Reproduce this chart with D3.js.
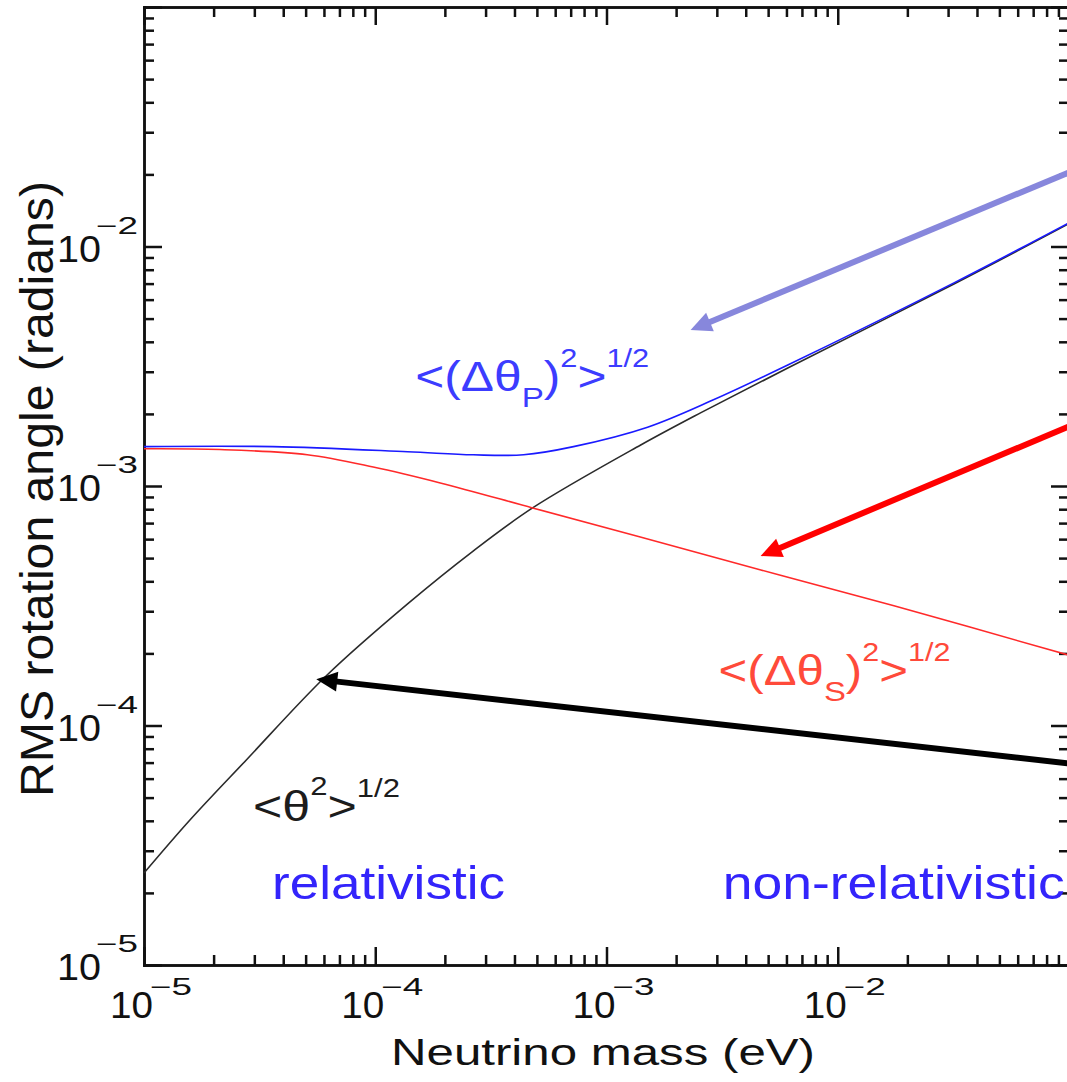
<!DOCTYPE html>
<html lang="en">
  <head>
    <meta charset="UTF-8" />
    <title>RMS rotation angle vs neutrino mass</title>
    <script src="https://d3js.org/d3.v7.min.js"></script>
    <style>
      body { margin: 0; background: #fff; }
      text { font-family: "Liberation Sans", Arial, Helvetica, sans-serif; }
    </style>
  </head>

  <body>
    <svg width="1067" height="1082"></svg>

    <script>
      // values: neutrino mass (eV) -> rms angle (radians)
      const thetaMass = [1e-5, 1.58e-5, 2.77e-5, 6.19e-5, 1.38e-4, 2.65e-4, 4.79e-4, 1.40e-3, 2.55e-3, 6.08e-3, 3.18e-2, 9.9e-2];
      const thetaRms = [2.42e-5, 4.03e-5, 7.18e-5, 1.625e-4, 3.22e-4, 5.35e-4, 8.1e-4, 1.48e-3, 2.02e-3, 3.11e-3, 6.97e-3, 1.24e-2];

      const dThetaPMass = [1e-5, 3.61e-5, 1.38e-4, 2.65e-4, 4.38e-4, 7.2e-4, 1.505e-3, 2.9e-3, 6.08e-3, 3.18e-2, 9.9e-2];
      const dThetaPRms = [1.46e-3, 1.46e-3, 1.39e-3, 1.35e-3, 1.35e-3, 1.46e-3, 1.76e-3, 2.29e-3, 3.2e-3, 7.05e-3, 1.25e-2];

      const dThetaSMass = [1e-5, 2.13e-5, 5.08e-5, 9.8e-5, 1.91e-4, 4.79e-4, 1.40e-3, 4.65e-3, 1.75e-2, 9.9e-2];
      const dThetaSRms = [1.43e-3, 1.42e-3, 1.35e-3, 1.2e-3, 1.03e-3, 8.1e-4, 6.12e-4, 4.46e-4, 3.16e-4, 1.97e-4];

      const majorTicks = [1e-5, 1e-4, 1e-3, 1e-2, 1e-1];
      const minorSteps = [2, 3, 4, 5, 6, 7, 8, 9];
      const xLabelExps = [-5, -4, -3, -2];
      const yLabelExps = [-5, -4, -3, -2];

      // arrows: [mass, angle] of tail and head
      const arrows = [
        { from: [0.1377, 0.0232], to: [2.31e-3, 4.48e-3], color: "#8787dc" },
        { from: [0.1377, 2.02e-3], to: [4.64e-3, 5.1e-4], color: "#ff0000" },
        { from: [0.1377, 6.71e-5], to: [5.56e-5, 1.56e-4], color: "#000000" },
      ];

      let svg = d3.select("svg");

      const x = d3.scaleLog().domain([1e-5, 1e-1]).range([144, 1069]);
      const y = d3.scaleLog().domain([1e-5, 1e-1]).range([965, 7]);

      const minorTicks = [];
      majorTicks.slice(0, -1).forEach(function (d) {
        minorSteps.forEach(function (k) { minorTicks.push(d * k); });
      });

      // frame with ticks on all four sides
      function drawAxis(make, tx, ty) {
        [[majorTicks, 18], [minorTicks, 10]].forEach(function (t) {
          let g = svg.append("g")
            .attr("transform", "translate(" + tx + "," + ty + ")")
            .call(make().tickValues(t[0]).tickSizeInner(-t[1]).tickSizeOuter(0).tickFormat(""));
          g.selectAll("path, line").attr("stroke", "#111").attr("stroke-width", 2.5);
          g.select("path").attr("stroke-linecap", "square");
        });
      }
      drawAxis(function () { return d3.axisBottom(x); }, 0, 965);
      drawAxis(function () { return d3.axisTop(x); }, 0, 7);
      drawAxis(function () { return d3.axisLeft(y); }, 144, 0);
      drawAxis(function () { return d3.axisRight(y); }, 1069, 0);

      function txt(xp, yp, s, size, len, color) {
        return svg.append("text")
          .attr("x", xp).attr("y", yp)
          .attr("font-size", size)
          .attr("textLength", len)
          .attr("lengthAdjust", "spacingAndGlyphs")
          .attr("fill", color || "#111")
          .text(s);
      }

      xLabelExps.forEach(function (e) {
        const X = x(Math.pow(10, e));
        txt(X - 34, 1018, "10", 36, 43);
        txt(X + 6, 995, "\u2212" + (-e), 23, 42);
      });
      yLabelExps.forEach(function (e) {
        const Y = y(Math.pow(10, e));
        txt(57, Y + 15, "10", 36, 44);
        txt(96, Y - 13, "\u2212" + (-e), 23, 42);
      });

      txt(391, 1065, "Neutrino mass (eV)", 37, 424);
      svg.append("text")
        .attr("transform", "translate(53,797) rotate(-90)")
        .attr("font-size", 47)
        .attr("textLength", 616)
        .attr("lengthAdjust", "spacingAndGlyphs")
        .attr("fill", "#111")
        .text("RMS rotation angle (radians)");

      // curves
      const line = d3.line()
        .x(function (d) { return x(d[0]); })
        .y(function (d) { return y(d[1]); })
        .curve(d3.curveCatmullRom.alpha(0.5));

      const series = [
        { m: thetaMass, v: thetaRms, color: "#2b2b2b" },
        { m: dThetaSMass, v: dThetaSRms, color: "#ff2a2a" },
        { m: dThetaPMass, v: dThetaPRms, color: "#1a1aff" },
      ];
      svg.append("g")
        .selectAll("path")
        .data(series)
        .enter()
        .append("path")
        .attr("d", function (s) { return line(d3.zip(s.m, s.v)); })
        .attr("fill", "none")
        .attr("stroke", function (s) { return s.color; })
        .attr("stroke-width", 1.6);

      // arrows
      arrows.forEach(function (a) {
        const x0 = x(a.from[0]), y0 = y(a.from[1]);
        const x1 = x(a.to[0]), y1 = y(a.to[1]);
        const len = Math.hypot(x1 - x0, y1 - y0);
        const ux = (x1 - x0) / len, uy = (y1 - y0) / len;
        const hl = 21, hw = 10;
        const bx = x1 - ux * hl, by = y1 - uy * hl;
        svg.append("line")
          .attr("x1", x0).attr("y1", y0)
          .attr("x2", bx + ux * 2).attr("y2", by + uy * 2)
          .attr("stroke", a.color)
          .attr("stroke-width", 6);
        svg.append("path")
          .attr("d", "M" + x1 + "," + y1 +
            "L" + (bx - uy * hw) + "," + (by + ux * hw) +
            "L" + (bx + uy * hw) + "," + (by - ux * hw) + "Z")
          .attr("fill", a.color);
      });

      // labels: parts are [text, size, dy]
      function mathLabel(m, v, parts, color, width) {
        let g = svg.append("g");
        let t = g.append("text").attr("fill", color);
        parts.forEach(function (p) {
          t.append("tspan").attr("font-size", p[1]).attr("dy", p[2]).text(p[0]);
        });
        const w = t.node().getComputedTextLength();
        g.attr("transform", "translate(" + x(m) + "," + y(v) + ") scale(" + (width / w) + ",1)");
      }

      mathLabel(1.49e-4, 2.49e-3, [["<(\u0394\u03b8", 42, 0], ["P", 28, 16], [")", 42, -16], ["2", 26, -24], [">", 42, 24], ["1/2", 26, -24]], "#3c3cff", 234);
      mathLabel(3.05e-3, 1.48e-4, [["<(\u0394\u03b8", 42, 0], ["S", 28, 16], [")", 42, -16], ["2", 26, -24], [">", 42, 24], ["1/2", 26, -24]], "#ff4a3a", 232);
      mathLabel(2.96e-5, 3.99e-5, [["<\u03b8", 42, 0], ["2", 26, -26], [">", 42, 26], ["1/2", 26, -24]], "#1c1c1c", 147);

      mathLabel(3.58e-5, 1.89e-5, [["relativistic", 47, 0]], "#3324fb", 233);
      mathLabel(3.18e-3, 1.89e-5, [["non-relativistic", 47, 0]], "#3324fb", 342);
    </script>
  </body>
</html>
